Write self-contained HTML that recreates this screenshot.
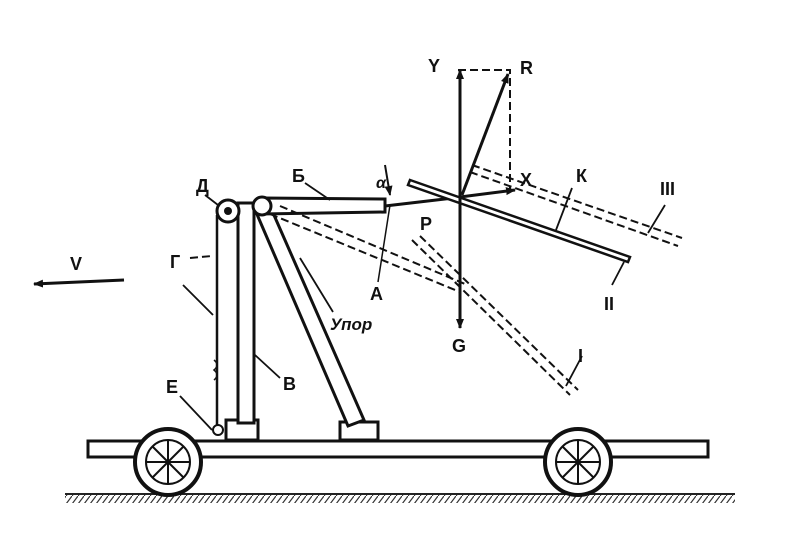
<!DOCTYPE html>
<html><head><meta charset="utf-8"><style>
html,body{margin:0;padding:0;background:#fff;}
svg{display:block}
text{font-family:"Liberation Sans",sans-serif;font-weight:bold;fill:#111}
</style></head><body>
<svg width="800" height="556" viewBox="0 0 800 556" xmlns="http://www.w3.org/2000/svg">
<defs>
<pattern id="h" width="6" height="8" patternUnits="userSpaceOnUse"><line x1="0" y1="8" x2="6" y2="0" stroke="#333" stroke-width="1.2"/></pattern>
<marker id="a" markerWidth="10" markerHeight="10" refX="9" refY="5" orient="auto" markerUnits="userSpaceOnUse"><path d="M0,1 L10,5 L0,9 Z" fill="#111"/></marker>
</defs>
<line x1="65" y1="494" x2="735" y2="494" stroke="#222" stroke-width="2"/>
<rect x="65" y="495" width="670" height="8" fill="url(#h)"/>
<rect x="88" y="441" width="620" height="16" fill="#fff" stroke="#111" stroke-width="3"/>
<g stroke="#111" fill="#fff">
<circle cx="168" cy="462" r="33" stroke-width="4"/>
<circle cx="168" cy="462" r="22" stroke-width="2"/>
<circle cx="578" cy="462" r="33" stroke-width="4"/>
<circle cx="578" cy="462" r="22" stroke-width="2"/>
</g>
<g stroke="#111" stroke-width="2">
<path d="M146,462H190M168,440V484M152,446L184,478M184,446L152,478"/>
<path d="M556,462H600M578,440V484M562,446L594,478M594,446L562,478"/>
</g>
<rect x="226" y="420" width="32" height="20" fill="#fff" stroke="#111" stroke-width="3"/>
<rect x="340" y="422" width="38" height="18" fill="#fff" stroke="#111" stroke-width="3"/>
<rect x="238" y="203" width="16" height="220" fill="#fff" stroke="#111" stroke-width="3"/>
<polygon points="256,212 270,206 364,420 348,426" fill="#fff" stroke="#111" stroke-width="3"/>
<line x1="217" y1="215" x2="217" y2="430" stroke="#111" stroke-width="2.5"/>
<circle cx="218" cy="430" r="5" fill="#fff" stroke="#111" stroke-width="2"/>
<path d="M214,360 q6,5 0,10 q6,5 0,10" stroke="#111" fill="none" stroke-width="1.5"/>
<circle cx="228" cy="211" r="11" fill="#fff" stroke="#111" stroke-width="3"/>
<circle cx="228" cy="211" r="4" fill="#111"/>
<polygon points="262,198 385,199 385,212 262,214" fill="#fff" stroke="#111" stroke-width="3"/>
<circle cx="262" cy="206" r="9" fill="#fff" stroke="#111" stroke-width="3"/>
<line x1="385" y1="206" x2="462" y2="197" stroke="#111" stroke-width="3"/>
<line x1="390" y1="205" x2="378" y2="282" stroke="#111" stroke-width="1.5"/>
<line x1="385" y1="165" x2="390" y2="195" stroke="#111" stroke-width="2" marker-end="url(#a)"/>
<g stroke="#111" stroke-width="2" stroke-dasharray="8,4" fill="none">
<path d="M270,214 L460,292"/><path d="M280,206 L465,284"/>
<path d="M412,240 L570,395"/><path d="M420,236 L578,390"/>
<path d="M470,172 L678,246"/><path d="M472,165 L682,238"/>
<path d="M190,258 L212,256"/>
<path d="M458,70 H510 V190"/>
</g>
<polygon points="410,180 630,257 628,262 408,185" fill="#fff" stroke="#111" stroke-width="2.5"/>
<g stroke="#111" stroke-width="3" fill="none">
<line x1="460" y1="200" x2="460" y2="70" marker-end="url(#a)"/>
<line x1="460" y1="200" x2="460" y2="328" marker-end="url(#a)"/>
<line x1="462" y1="195" x2="508" y2="74" marker-end="url(#a)"/>
<line x1="460" y1="197" x2="515" y2="190" marker-end="url(#a)"/>
<line x1="124" y1="280" x2="34" y2="284" marker-end="url(#a)"/>
</g>
<g stroke="#111" stroke-width="1.8">
<path d="M572,188 L556,230 M665,205 L648,233 M624,262 L612,285 M582,356 L566,386 M205,195 L218,205 M305,183 L330,200 M333,312 L300,258 M183,285 L213,315 M280,378 L255,355 M180,396 L212,430"/>
</g>
<text x="428" y="72" font-size="18">Y</text>
<text x="520" y="74" font-size="18">R</text>
<text x="520" y="186" font-size="18">X</text>
<text x="576" y="182" font-size="18">К</text>
<text x="660" y="195" font-size="18">III</text>
<text x="604" y="310" font-size="18">II</text>
<text x="578" y="362" font-size="18">I</text>
<text x="420" y="230" font-size="18">P</text>
<text x="370" y="300" font-size="18">A</text>
<text x="330" y="330" font-size="17" font-style="italic">Упор</text>
<text x="452" y="352" font-size="18">G</text>
<text x="283" y="390" font-size="18">B</text>
<text x="166" y="393" font-size="18">E</text>
<text x="170" y="268" font-size="18">Г</text>
<text x="196" y="192" font-size="18">Д</text>
<text x="292" y="182" font-size="18">Б</text>
<text x="70" y="270" font-size="18">V</text>
<text x="376" y="188" font-size="16" font-style="italic">α</text>
</svg>
</body></html>
